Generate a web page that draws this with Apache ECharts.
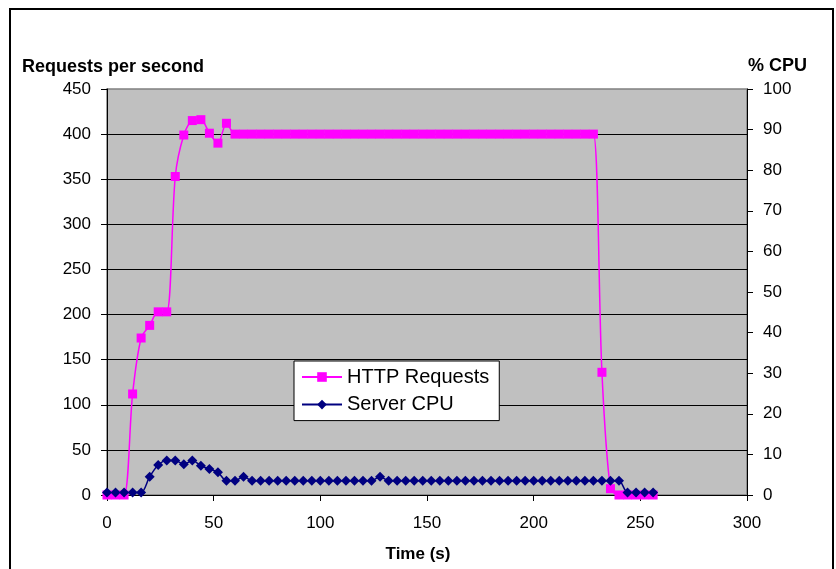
<!DOCTYPE html>
<html>
<head>
<meta charset="utf-8">
<script src="https://cdn.jsdelivr.net/npm/echarts@6/dist/echarts.min.js"></script>
<style>
html,body{margin:0;padding:0;background:#fff;}
#chart{width:836px;height:569px;}
</style>
</head>
<body>
<div id="chart"></div>
<script>
// Time samples (s)
var times = [0,4,8,12,16,20,24,28,32,36,40,44,48,52,56,60,64,68,72,76,80,84,88,92,96,100,104,108,112,116,120,124,128,132,136,140,144,148,152,156,160,164,168,172,176,180,184,188,192,196,200,204,208,212,216,220,224,228,232,236,240,244,248,252,256];
// HTTP requests per second
var httpRequests = [0,0,0,112,174,188,203,203,353,399,415,416,401,390,412,400,400,400,400,400,400,400,400,400,400,400,400,400,400,400,400,400,400,400,400,400,400,400,400,400,400,400,400,400,400,400,400,400,400,400,400,400,400,400,400,400,400,400,136,7,0,0,0,0,0];
// Server CPU (%)
var serverCpu = [0.6,0.6,0.6,0.6,0.6,4.5,7.4,8.5,8.5,7.6,8.5,7.2,6.4,5.6,3.5,3.5,4.5,3.5,3.5,3.5,3.5,3.5,3.5,3.5,3.5,3.5,3.5,3.5,3.5,3.5,3.5,3.5,4.5,3.5,3.5,3.5,3.5,3.5,3.5,3.5,3.5,3.5,3.5,3.5,3.5,3.5,3.5,3.5,3.5,3.5,3.5,3.5,3.5,3.5,3.5,3.5,3.5,3.5,3.5,3.5,3.5,0.6,0.6,0.6,0.6];
// Axis ticks
var xTicks = {min:0, max:300, interval:50};
var leftTicks = {min:0, max:450, interval:50};
var rightTicks = {min:0, max:100, interval:10};

var FONT = 'Liberation Sans, Arial, sans-serif';
function pairs(xs, ys){ return xs.map(function(x,i){ return [x, ys[i]]; }); }

var chart = echarts.init(document.getElementById('chart'), null, {renderer:'canvas'});
chart.setOption({
  animation: false,
  backgroundColor: '#ffffff',
  textStyle: {fontFamily: FONT},
  grid: {left:107, top:89, width:640, height:406, show:true, backgroundColor:'#C0C0C0', borderColor:'#808080', borderWidth:1.5},
  graphic: [
    {type:'rect', shape:{x:10, y:9, width:823, height:580}, style:{fill:'none', stroke:'#000', lineWidth:2}, silent:true},
    {type:'text', left:22, top:58, style:{text:'Requests per second', font:'bold 18px ' + FONT, fill:'#000'}},
    {type:'text', left:748, top:57, style:{text:'% CPU', font:'bold 18px ' + FONT, fill:'#000'}},
    {type:'text', left:'center', top:546, style:{text:'Time (s)', font:'bold 17px ' + FONT, fill:'#000'}}
  ],
  legend: {
    orient:'vertical', left:294, top:361,
    padding:[4,10,4,7], itemGap:3.6, itemWidth:40, itemHeight:12,
    backgroundColor:'#ffffff', borderColor:'#000', borderWidth:1,
    textStyle:{fontSize:20, fontFamily:FONT, color:'#000', lineHeight:24},
    data:['HTTP Requests','Server CPU']
  },
  xAxis: {
    type:'value', min:xTicks.min, max:xTicks.max, interval:xTicks.interval,
    axisLine:{show:true, lineStyle:{color:'#000', width:1}},
    axisTick:{show:true, inside:false, length:6, lineStyle:{color:'#000'}},
    axisLabel:{color:'#000', fontSize:17, fontFamily:FONT, margin:20},
    splitLine:{show:false}
  },
  yAxis: [
    {
      type:'value', position:'left', min:leftTicks.min, max:leftTicks.max, interval:leftTicks.interval,
      axisLine:{show:true, lineStyle:{color:'#000', width:1}},
      axisTick:{show:true, inside:false, length:6, lineStyle:{color:'#000'}},
      axisLabel:{color:'#000', fontSize:17, fontFamily:FONT, margin:16},
      splitLine:{show:true, showMaxLine:false, showMinLine:false, lineStyle:{color:'#000', width:1}}
    },
    {
      type:'value', position:'right', min:rightTicks.min, max:rightTicks.max, interval:rightTicks.interval,
      axisLine:{show:true, lineStyle:{color:'#000', width:1}},
      axisTick:{show:true, inside:false, length:6, lineStyle:{color:'#000'}},
      axisLabel:{color:'#000', fontSize:17, fontFamily:FONT, margin:16},
      splitLine:{show:false}
    }
  ],
  series: [
    {
      name:'HTTP Requests', type:'line', yAxisIndex:0, smooth:0.3,
      data: pairs(times, httpRequests),
      symbol:'rect', symbolSize:9, showAllSymbol:true,
      lineStyle:{color:'#FF00FF', width:1.5},
      itemStyle:{color:'#FF00FF', borderWidth:0}
    },
    {
      name:'Server CPU', type:'line', yAxisIndex:1, smooth:0.3,
      data: pairs(times, serverCpu),
      symbol:'diamond', symbolSize:10, showAllSymbol:true,
      lineStyle:{color:'#000080', width:1.5},
      itemStyle:{color:'#000080', borderWidth:0}
    }
  ]
});
</script>
</body>
</html>
